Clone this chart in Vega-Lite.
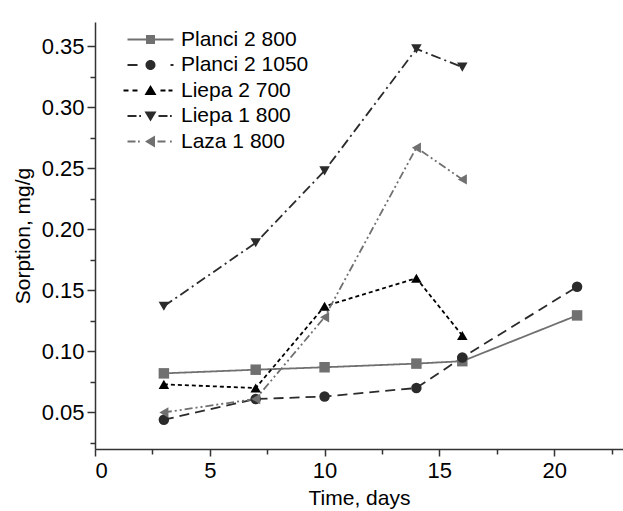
{
  "$schema": "https://vega.github.io/schema/vega-lite/v6.json",
  "width": 528,
  "height": 427,
  "autosize": "none",
  "padding": {"left": 95, "top": 22, "right": 0, "bottom": 62},
  "background": "white",
  "config": {
    "view": {"stroke": null},
    "font": "Liberation Sans",
    "legend": {
      "orient": "none",
      "legendX": 45,
      "legendY": 7,
      "padding": 0,
      "labelFont": "Liberation Sans",
      "labelFontSize": 21,
      "labelColor": "#000000",
      "labelOffset": 20,
      "rowPadding": 3.5,
      "symbolSize": 100,
      "symbolStrokeWidth": 0,
      "symbolOpacity": 1,
      "title": null
    },
    "axis": {
      "domainColor": "#333333",
      "domainWidth": 1.5,
      "tickColor": "#333333",
      "tickWidth": 1.5,
      "labelFont": "Liberation Sans",
      "labelFontSize": 22,
      "labelColor": "#000000",
      "titleFont": "Liberation Sans",
      "titleFontSize": 21,
      "titleFontWeight": "normal",
      "titleColor": "#000000",
      "grid": false
    }
  },
  "data": {
    "values": [
      {"series": "Planci 2 800", "day": 3, "sorption": 0.082},
      {"series": "Planci 2 800", "day": 7, "sorption": 0.085},
      {"series": "Planci 2 800", "day": 10, "sorption": 0.087},
      {"series": "Planci 2 800", "day": 14, "sorption": 0.090},
      {"series": "Planci 2 800", "day": 16, "sorption": 0.092},
      {"series": "Planci 2 800", "day": 21, "sorption": 0.1295},
      {"series": "Planci 2 1050", "day": 3, "sorption": 0.044},
      {"series": "Planci 2 1050", "day": 7, "sorption": 0.061},
      {"series": "Planci 2 1050", "day": 10, "sorption": 0.063},
      {"series": "Planci 2 1050", "day": 14, "sorption": 0.070},
      {"series": "Planci 2 1050", "day": 16, "sorption": 0.095},
      {"series": "Planci 2 1050", "day": 21, "sorption": 0.153},
      {"series": "Liepa 2 700", "day": 3, "sorption": 0.073},
      {"series": "Liepa 2 700", "day": 7, "sorption": 0.070},
      {"series": "Liepa 2 700", "day": 10, "sorption": 0.137},
      {"series": "Liepa 2 700", "day": 14, "sorption": 0.160},
      {"series": "Liepa 2 700", "day": 16, "sorption": 0.113},
      {"series": "Liepa 1 800", "day": 3, "sorption": 0.137},
      {"series": "Liepa 1 800", "day": 7, "sorption": 0.189},
      {"series": "Liepa 1 800", "day": 10, "sorption": 0.248},
      {"series": "Liepa 1 800", "day": 14, "sorption": 0.348},
      {"series": "Liepa 1 800", "day": 16, "sorption": 0.333},
      {"series": "Laza 1 800", "day": 3, "sorption": 0.050},
      {"series": "Laza 1 800", "day": 7, "sorption": 0.061},
      {"series": "Laza 1 800", "day": 10, "sorption": 0.128},
      {"series": "Laza 1 800", "day": 14, "sorption": 0.267},
      {"series": "Laza 1 800", "day": 16, "sorption": 0.241}
    ]
  },
  "encoding": {
    "x": {
      "field": "day",
      "type": "quantitative",
      "scale": {"domain": [0, 23], "nice": false, "zero": false},
      "axis": {
        "title": "Time, days",
        "values": [0, 2.5, 5, 7.5, 10, 12.5, 15, 17.5, 20, 22.5],
        "labelExpr": "datum.value % 5 == 0 ? format(datum.value, 'd') : ''",
        "tickSize": {"condition": {"test": "datum.value % 5 == 0", "value": 7}, "value": 5},
        "labelPadding": 4,
        "titlePadding": 6
      }
    },
    "y": {
      "field": "sorption",
      "type": "quantitative",
      "scale": {"domain": [0.02, 0.37], "nice": false, "zero": false},
      "axis": {
        "title": "Sorption, mg/g",
        "values": [0.025, 0.05, 0.075, 0.1, 0.125, 0.15, 0.175, 0.2, 0.225, 0.25, 0.275, 0.3, 0.325, 0.35],
        "labelExpr": "abs(datum.value*20 - round(datum.value*20)) < 0.001 ? format(datum.value, '.2f') : ''",
        "tickSize": {"condition": {"test": "abs(datum.value*20 - round(datum.value*20)) < 0.001", "value": 8}, "value": 5},
        "labelPadding": 3,
        "titlePadding": 8
      }
    }
  },
  "layer": [
    {
      "mark": {"type": "line", "strokeWidth": 1.8},
      "encoding": {
        "color": {
          "field": "series",
          "type": "nominal",
          "scale": {
            "domain": ["Planci 2 800", "Planci 2 1050", "Liepa 2 700", "Liepa 1 800", "Laza 1 800"],
            "range": ["#707070", "#2b2b2b", "#000000", "#2b2b2b", "#707070"]
          },
          "legend": null
        },
        "strokeDash": {
          "field": "series",
          "type": "nominal",
          "scale": {
            "domain": ["Planci 2 800", "Planci 2 1050", "Liepa 2 700", "Liepa 1 800", "Laza 1 800"],
            "range": [[1, 0], [10, 6], [4, 3], [10, 4, 2, 4], [8, 3, 2, 3, 2, 3]]
          },
          "legend": null
        }
      }
    },
    {
      "mark": {"type": "point", "filled": true, "opacity": 1, "size": 110},
      "encoding": {
        "color": {
          "field": "series",
          "type": "nominal",
          "scale": {
            "domain": ["Planci 2 800", "Planci 2 1050", "Liepa 2 700", "Liepa 1 800", "Laza 1 800"],
            "range": ["#707070", "#2b2b2b", "#000000", "#2b2b2b", "#707070"]
          },
          "legend": null
        },
        "shape": {
          "field": "series",
          "type": "nominal",
          "scale": {
            "domain": ["Planci 2 800", "Planci 2 1050", "Liepa 2 700", "Liepa 1 800", "Laza 1 800"],
            "range": ["square", "circle", "triangle-up", "triangle-down", "triangle-left"]
          },
          "legend": null
        }
      }
    },
    {
      "transform": [{"filter": "false"}],
      "mark": {"type": "point", "filled": true, "opacity": 1, "strokeWidth": 0},
      "encoding": {
        "color": {
          "field": "series",
          "type": "nominal",
          "scale": {
            "domain": ["Planci 2 800", "Planci 2 1050", "Liepa 2 700", "Liepa 1 800", "Laza 1 800"],
            "range": ["#707070", "#2b2b2b", "#000000", "#2b2b2b", "#707070"]
          },
          "legend": {"title": null, "orient": "none", "legendX": 45, "legendY": 7}
        },
        "shape": {
          "field": "series",
          "type": "nominal",
          "scale": {
            "domain": ["Planci 2 800", "Planci 2 1050", "Liepa 2 700", "Liepa 1 800", "Laza 1 800"],
            "range": [
              "M-4.6,-0.2L4.6,-0.2L4.6,0.2L-4.6,0.2ZM-0.9,-0.9L0.9,-0.9L0.9,0.9L-0.9,0.9Z",
              "M-4.6,-0.2L-2.6,-0.2L-2.6,0.2L-4.6,0.2ZM4,-0.2L4.6,-0.2L4.6,0.2L4,0.2ZM-1,0A1,1 0 1,0 1,0A1,1 0 1,0 -1,0Z",
              "M-5.4,-0.2L-4.4,-0.2L-4.4,0.2L-5.4,0.2ZM-3.6,-0.2L-2.6,-0.2L-2.6,0.2L-3.6,0.2ZM2,-0.2L3,-0.2L3,0.2L2,0.2ZM3.6,-0.2L4.4,-0.2L4.4,0.2L3.6,0.2ZM0,-1.1L1.2,0.9L-1.2,0.9Z",
              "M-4.6,-0.2L-2.8,-0.2L-2.8,0.2L-4.6,0.2ZM-2.25,-0.2L-1.9,-0.2L-1.9,0.2L-2.25,0.2ZM1.6,-0.2L3.4,-0.2L3.4,0.2L1.6,0.2ZM3.9,-0.2L4.25,-0.2L4.25,0.2L3.9,0.2ZM0,1.1L1.2,-0.9L-1.2,-0.9Z",
              "M-4.6,-0.2L-3,-0.2L-3,0.2L-4.6,0.2ZM-2.5,-0.2L-2.15,-0.2L-2.15,0.2L-2.5,0.2ZM1.4,-0.2L3,-0.2L3,0.2L1.4,0.2ZM3.9,-0.2L4.25,-0.2L4.25,0.2L3.9,0.2ZM-1.1,0L0.9,-1.2L0.9,1.2Z"
            ]
          },
          "legend": {"title": null, "orient": "none", "legendX": 45, "legendY": 7}
        }
      }
    }
  ],
  "resolve": {
    "scale": {"shape": "independent", "color": "independent"},
    "legend": {"shape": "independent", "color": "independent"}
  }
}
